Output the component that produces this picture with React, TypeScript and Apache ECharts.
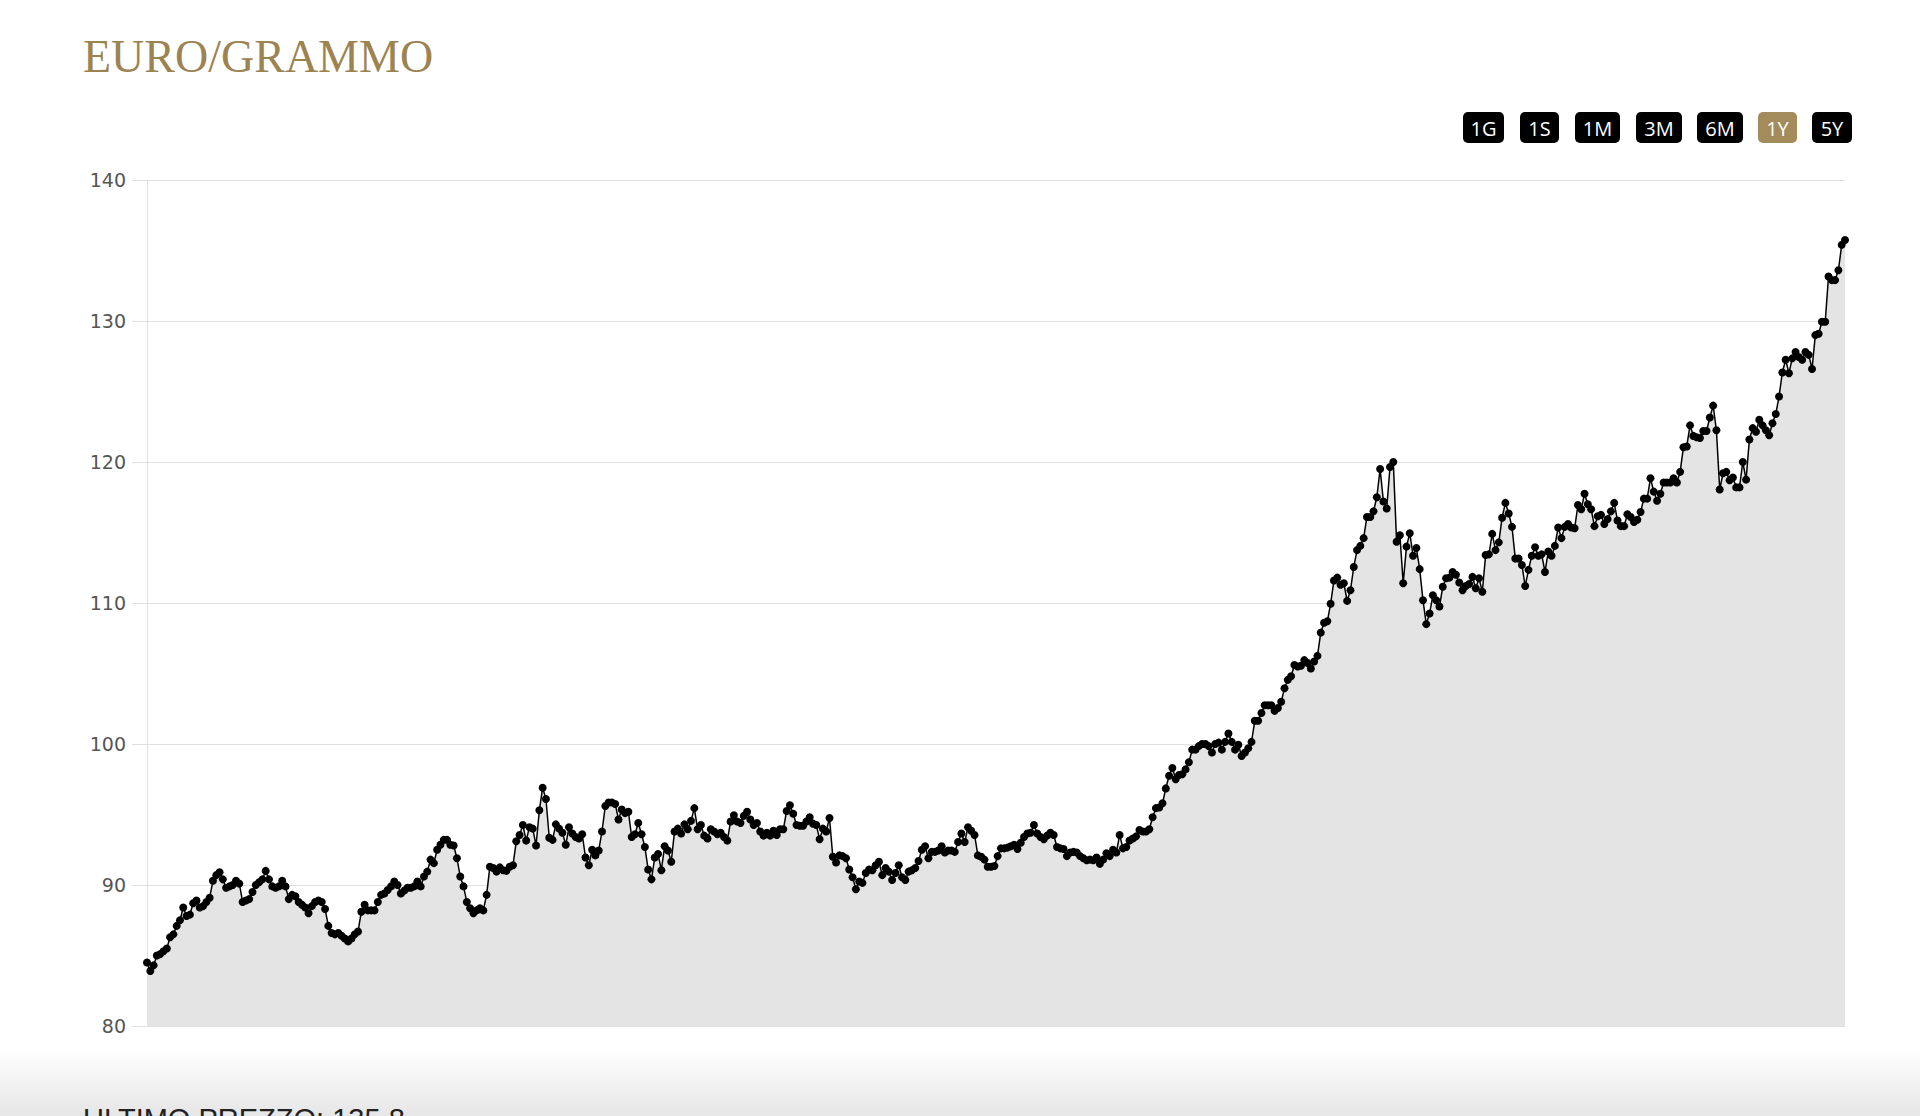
import React, { useEffect, useRef } from "react";
import * as echarts from "echarts";

// Price (EUR per gram), in chronological order
const prices1 = [84.5, 83.9, 84.3, 85.0, 85.1, 85.3, 85.5, 86.3, 86.5, 87.1, 87.5, 88.4, 87.8, 87.9, 88.7, 88.9, 88.4, 88.5, 88.8, 89.1, 90.3, 90.7, 90.9, 90.4, 89.8, 89.9, 90.0, 90.3, 90.1, 88.8, 88.9, 89.0, 89.5, 90.0, 90.2, 90.4, 91.0, 90.4, 89.9, 89.8, 89.9, 90.3, 89.9, 89.0, 89.3, 89.2, 88.8, 88.6, 88.4, 88.0, 88.5, 88.8, 88.9, 88.8, 88.3, 87.1, 86.6, 86.5, 86.6, 86.4, 86.2, 86.0];
const prices2 = [86.2, 86.5, 86.7, 88.1, 88.6, 88.2, 88.2, 88.2, 88.8, 89.3, 89.4, 89.65, 89.9, 90.25, 90.0, 89.4, 89.6, 89.8, 89.8, 89.9, 90.25, 89.9, 90.6, 90.95, 91.8, 91.55, 92.5, 92.85, 93.2, 93.2, 92.85, 92.8, 91.9, 90.6, 89.9, 88.8, 88.35, 88.0, 88.2, 88.35, 88.2, 89.3, 91.3, 91.2, 90.95, 91.25, 91.05, 91.0, 91.3, 91.4, 93.1, 93.55, 94.25, 93.15, 94.1, 94.0, 92.8, 95.3, 96.9, 96.1, 93.35, 93.2, 94.3, 94.0];
const prices3 = [93.7, 92.85, 94.1, 93.65, 93.4, 93.3, 93.6, 91.95, 91.4, 92.5, 92.1, 92.45, 93.8, 95.6, 95.85, 95.85, 95.75, 94.65, 95.35, 95.1, 95.2, 93.4, 93.6, 94.4, 93.6, 92.7, 91.1, 90.4, 91.95, 92.2, 91.05, 92.75, 92.45, 91.65, 93.8, 94.0, 93.65, 94.3, 93.95, 94.55, 95.45, 93.95, 94.25, 93.5, 93.3, 93.95, 93.8, 93.6, 93.7, 93.4, 93.15, 94.5, 94.95, 94.5, 94.4, 94.9, 95.2, 94.65, 94.25, 94.4, 93.8, 93.5, 93.7];
const prices4 = [93.5, 93.85, 93.55, 93.95, 93.95, 95.25, 95.65, 95.05, 94.25, 94.2, 94.2, 94.5, 94.8, 94.35, 94.25, 93.25, 94.0, 93.8, 94.75, 92.0, 91.6, 92.1, 92.05, 91.9, 91.1, 90.55, 89.7, 90.25, 90.15, 90.85, 91.1, 91.05, 91.4, 91.65, 90.7, 91.2, 90.95, 90.35, 90.85, 91.4, 90.55, 90.35, 90.95, 91.05, 91.2, 91.7, 92.5, 92.75, 91.9, 92.35, 92.35, 92.45, 92.75, 92.3, 92.45, 92.45, 92.35, 93.05, 93.65, 93.05, 94.1, 93.85, 93.55, 92.1];
const prices5 = [92.0, 91.8, 91.3, 91.3, 91.35, 92.05, 92.6, 92.6, 92.65, 92.75, 92.85, 92.55, 93.0, 93.4, 93.65, 93.7, 94.25, 93.65, 93.4, 93.25, 93.5, 93.7, 93.55, 92.7, 92.6, 92.55, 92.05, 92.3, 92.35, 92.3, 92.05, 91.9, 91.75, 91.8, 91.75, 91.95, 91.5, 91.8, 92.25, 92.05, 92.5, 92.3, 93.55, 92.6, 92.7, 93.15, 93.3, 93.45, 93.9, 93.8, 93.8, 93.95, 94.8, 95.45, 95.5, 95.8, 96.85, 97.75, 98.3, 97.5, 97.8, 97.85, 98.2, 98.7];
const prices6 = [99.6, 99.6, 99.85, 100.0, 100.0, 99.85, 99.4, 100.0, 100.1, 99.6, 100.15, 100.75, 100.15, 99.6, 99.95, 99.15, 99.4, 99.7, 100.15, 101.65, 101.65, 102.2, 102.75, 102.75, 102.75, 102.35, 102.55, 103.0, 103.95, 104.55, 104.8, 105.6, 105.5, 105.55, 105.95, 105.75, 105.35, 105.85, 106.25, 107.9, 108.6, 108.7, 109.95, 111.6, 111.8, 111.3, 111.4, 110.15, 110.9, 112.55, 113.75, 114.05, 114.6, 116.1, 116.1, 116.5, 117.5, 119.5, 117.2, 116.7, 119.65, 120.0, 114.35, 114.8];
const prices7 = [111.4, 114.0, 114.95, 113.35, 113.9, 112.4, 110.2, 108.5, 109.25, 110.55, 110.2, 109.75, 111.15, 111.75, 111.8, 112.2, 112.0, 111.45, 110.9, 111.2, 111.35, 111.85, 111.05, 111.75, 110.8, 113.4, 113.45, 114.9, 113.75, 114.3, 116.05, 117.1, 116.35, 115.4, 113.15, 113.15, 112.7, 111.2, 112.35, 113.35, 113.95, 113.35, 113.45, 112.2, 113.65, 113.35, 114.05, 115.35, 114.6, 115.4, 115.6, 115.35, 115.3, 116.95, 116.65, 117.75, 117.0, 116.65, 115.45, 116.15, 116.25, 115.6, 115.95, 116.5];
const prices8 = [117.1, 115.85, 115.45, 115.45, 116.3, 116.1, 115.75, 115.9, 116.45, 117.4, 117.4, 118.85, 117.9, 117.25, 117.75, 118.55, 118.55, 118.55, 118.85, 118.55, 119.3, 121.05, 121.1, 122.6, 121.85, 121.75, 121.7, 122.2, 122.2, 123.15, 124.0, 122.25, 118.05, 119.2, 119.3, 118.7, 118.9, 118.2, 118.2, 120.0, 118.75, 121.6, 122.4, 122.15, 123.0, 122.6, 122.25, 121.9, 122.75, 123.4, 124.65, 126.35, 127.25, 126.3, 127.35, 127.8, 127.45, 127.25, 127.8, 127.6, 126.6, 129.0, 129.1, 129.95, 129.95, 133.15, 132.9, 132.9, 133.6, 135.4, 135.75];

const yMin = 80;
const yMax = 140;
const yStep = 10;

const rangeButtons = ["1G", "1S", "1M", "3M", "6M", "1Y", "5Y"];
const activeButton = "1Y";
const titleText = "EURO/GRAMMO";
const lastPriceText = "ULTIMO PREZZO: 135,8";

export default function App() {
  const ref = useRef<HTMLDivElement>(null);

  useEffect(() => {
    if (!ref.current) return;
    const chart = echarts.init(ref.current, undefined, { renderer: "svg" });
    const values = [...prices1, ...prices2, ...prices3, ...prices4, ...prices5, ...prices6, ...prices7, ...prices8];
    const cats = values.map((_, i) => String(i));

    // button geometry (layout only)
    const btnX = [1463, 1520, 1575, 1636, 1697, 1758, 1812];
    const btnW = [41, 39, 45, 46, 46, 39, 40];
    const buttons = rangeButtons.map((label, i) => ({
      type: "group",
      x: btnX[i],
      y: 112,
      children: [
        {
          type: "rect",
          shape: { x: 0, y: 0, width: btnW[i], height: 31, r: 5 },
          style: { fill: label === activeButton ? "#a38b5b" : "#000000" },
        },
        {
          type: "text",
          x: btnW[i] / 2,
          y: 16,
          style: {
            text: label,
            fill: "#ffffff",
            font: '20px "Open Sans"',
            align: "center",
            verticalAlign: "middle",
          },
        },
      ],
    }));

    chart.setOption({
      animation: false,
      backgroundColor: "#ffffff",
      grid: { left: 147, right: 75, top: 180, bottom: 90 },
      xAxis: {
        type: "category",
        data: cats,
        boundaryGap: false,
        axisLine: { show: false },
        axisTick: { show: false },
        axisLabel: { show: false },
        splitLine: { show: false },
      },
      yAxis: {
        type: "value",
        min: yMin,
        max: yMax,
        interval: yStep,
        axisLine: { show: true, lineStyle: { color: "#e0e0e0", width: 1 } },
        axisTick: { show: true, length: 15, lineStyle: { color: "#e0e0e0" } },
        axisLabel: {
          color: "#555555",
          fontSize: 19,
          fontFamily: "DejaVu Sans",
          margin: 21,
        },
        splitLine: { show: true, lineStyle: { color: "#e0e0e0", width: 1 } },
      },
      series: [
        {
          type: "line",
          data: values,
          showAllSymbol: true,
          symbol: "circle",
          symbolSize: 8,
          itemStyle: { color: "#000000" },
          lineStyle: { color: "#000000", width: 1.5 },
          areaStyle: { color: "#e4e4e4", opacity: 1 },
          z: 3,
        },
      ],
      graphic: [
        {
          type: "text",
          x: 83,
          y: 56,
          style: {
            text: titleText,
            fill: "#9b8452",
            font: '46px "Liberation Serif"',
            verticalAlign: "middle",
          },
        },
        ...buttons,
        {
          type: "rect",
          shape: { x: 0, y: 1050, width: 1920, height: 66 },
          style: {
            fill: new echarts.graphic.LinearGradient(0, 0, 0, 1, [
              { offset: 0, color: "#ffffff" },
              { offset: 1, color: "#e6e6e6" },
            ]),
          },
          z: 10,
        },
        {
          type: "text",
          x: 83,
          y: 1104,
          z: 11,
          style: {
            text: lastPriceText,
            fill: "#222222",
            font: '29px "Liberation Sans"',
            verticalAlign: "top",
          },
        },
      ],
    });
    return () => chart.dispose();
  }, []);

  return (
    <div
      ref={ref}
      style={{ position: "fixed", left: 0, top: 0, width: 1920, height: 1116, background: "#fff" }}
    />
  );
}
